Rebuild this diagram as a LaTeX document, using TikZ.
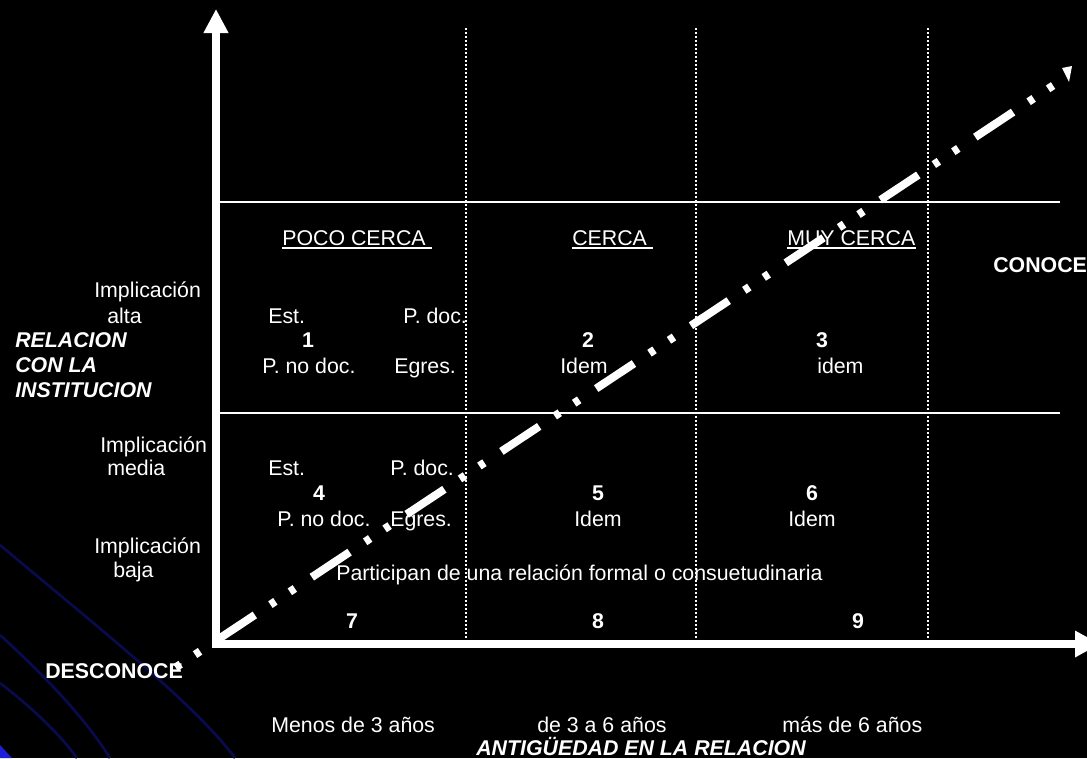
\documentclass[tikz,border=0pt]{standalone}
\usepackage{fontspec}
\setmainfont{Liberation Sans}
\usetikzlibrary{arrows.meta}
\definecolor{streakblue}{RGB}{10,10,78}
\definecolor{cornerblue}{RGB}{30,30,215}
\tikzset{
  lbl/.style={text=white, inner sep=0pt, font=\fontsize{16}{19}\selectfont},
  num/.style={lbl, font=\fontsize{16}{19}\selectfont\bfseries},
  ttl/.style={lbl, font=\fontsize{16}{19}\selectfont\bfseries\itshape},
  axis/.style={white, line width=6pt, line join=miter},
  band line/.style={white, line width=1.5pt},
  sep line/.style={white, line width=1.2pt, dash pattern=on 1.5pt off 1.5pt},
  trend/.style={white, line width=6pt, dash pattern=on 4.5pt off 13pt on 4.5pt off 15.3pt on 34pt off 14pt},
  uline/.style={white, line width=1.3pt},
  streak/.style={streakblue, line width=2pt}
}
\begin{document}
\begin{tikzpicture}[x=0.75pt, y=-0.75pt]
  % background
  \fill[black] (0,0) rectangle (1087,758);
  \useasboundingbox (0,0) rectangle (1087,758);
  \draw[streak] (0,545) .. controls (100,629) and (195,704) .. (235,758);
  \draw[streak] (0,635) .. controls (45,676) and (85,718) .. (110,758);
  \draw[streak] (0,683) .. controls (30,706) and (58,732) .. (77,758);
  \fill[cornerblue] (0,745) -- (12,758) -- (0,758) -- cycle;
  % bands and columns
  \draw[band line] (218,202) -- (1060,202);
  \draw[band line] (218,413) -- (1060,413);
  \foreach \xs in {466,696,928}
    \draw[sep line] (\xs,28) -- (\xs,640);
  % trend line
  \coordinate (lo) at (175.6,667.5);
  \coordinate (hi) at (1053.4,85.3);
  \draw[trend] (lo) -- (hi);
  \fill[white] (1062,68) -- (1072,66) -- (1069,82) -- cycle;
  % axes
  \coordinate (o) at (216,644);
  \coordinate (ytip) at (216,9);
  \coordinate (xtip) at (1100,644);
  \draw[axis, {Triangle[width=17.5pt,length=18pt]}-{Triangle[width=18.75pt,length=18.75pt]}] (ytip) -- (o) -- (xtip);
  % row labels
  \node[lbl, anchor=base west] (altaA) at (94,297) {Implicación};
  \node[lbl, anchor=base west] (altaB) at (107,323) {alta};
  \node[ttl, anchor=base west] (relA) at (15,347) {RELACION};
  \node[ttl, anchor=base west] (relB) at (15,372) {CON LA};
  \node[ttl, anchor=base west] (relC) at (15,397) {INSTITUCION};
  \node[lbl, anchor=base west] (mediaA) at (100,452) {Implicación};
  \node[lbl, anchor=base west] (mediaB) at (107,475) {media};
  \node[lbl, anchor=base west] (bajaA) at (94,553) {Implicación};
  \node[lbl, anchor=base west] (bajaB) at (113,577) {baja};
  \node[num, anchor=base west] (desc) at (45,678) {DESCONOCE};
  \node[num, anchor=base west] (conoce) at (993,272) {CONOCE};
  % column heads
  \node[lbl, anchor=base west] (poco) at (282,245) {POCO CERCA\kern.278em};
  \node[lbl, anchor=base west] (cerca) at (572,245) {CERCA\kern.278em};
  \node[lbl, anchor=base west] (muy) at (787,245) {MUY CERCA};
  \foreach \h in {poco,cerca,muy}
    \draw[uline] ([yshift=-2pt]\h.base west) -- ([yshift=-2pt]\h.base east);
  % upper cells
  \node[lbl, anchor=base west] (estA) at (268,323) {Est.};
  \node[lbl, anchor=base west] (pdocA) at (403,323) {P. doc.};
  \node[num, anchor=base] (c1) at (308,347) {1};
  \node[lbl, anchor=base west] (pnodocA) at (262,373) {P. no doc.};
  \node[lbl, anchor=base west] (egresA) at (394,373) {Egres.};
  \node[num, anchor=base] (c2) at (588,347) {2};
  \node[lbl, anchor=base west] (idemB) at (560,373) {Idem};
  \node[num, anchor=base] (c3) at (822,347) {3};
  \node[lbl, anchor=base west] (idemC) at (817,373) {idem};
  % middle cells
  \node[lbl, anchor=base west] (estD) at (268,475) {Est.};
  \node[lbl, anchor=base west] (pdocD) at (390,475) {P. doc.};
  \node[num, anchor=base] (c4) at (319,500) {4};
  \node[lbl, anchor=base west] (pnodocD) at (277,526) {P. no doc.};
  \node[lbl, anchor=base west] (egresD) at (390,526) {Egres.};
  \node[num, anchor=base] (c5) at (598,500) {5};
  \node[lbl, anchor=base west] (idemE) at (574,526) {Idem};
  \node[num, anchor=base] (c6) at (812,500) {6};
  \node[lbl, anchor=base west] (idemF) at (788,526) {Idem};
  % lower cells
  \node[lbl, anchor=base west] (formal) at (336,580) {Participan de una relación formal o consuetudinaria};
  \node[num, anchor=base] (c7) at (352,628) {7};
  \node[num, anchor=base] (c8) at (598,628) {8};
  \node[num, anchor=base] (c9) at (858,628) {9};
  % time axis
  \node[lbl, anchor=base west] (menos) at (271,732) {Menos de 3 años};
  \node[lbl, anchor=base west] (entre) at (537,732) {de 3 a 6 años};
  \node[lbl, anchor=base west] (mas) at (782,732) {más de 6 años};
  \node[ttl, anchor=base west] (antig) at (476,755) {ANTIGÜEDAD EN LA RELACION};
\end{tikzpicture}
\end{document}
